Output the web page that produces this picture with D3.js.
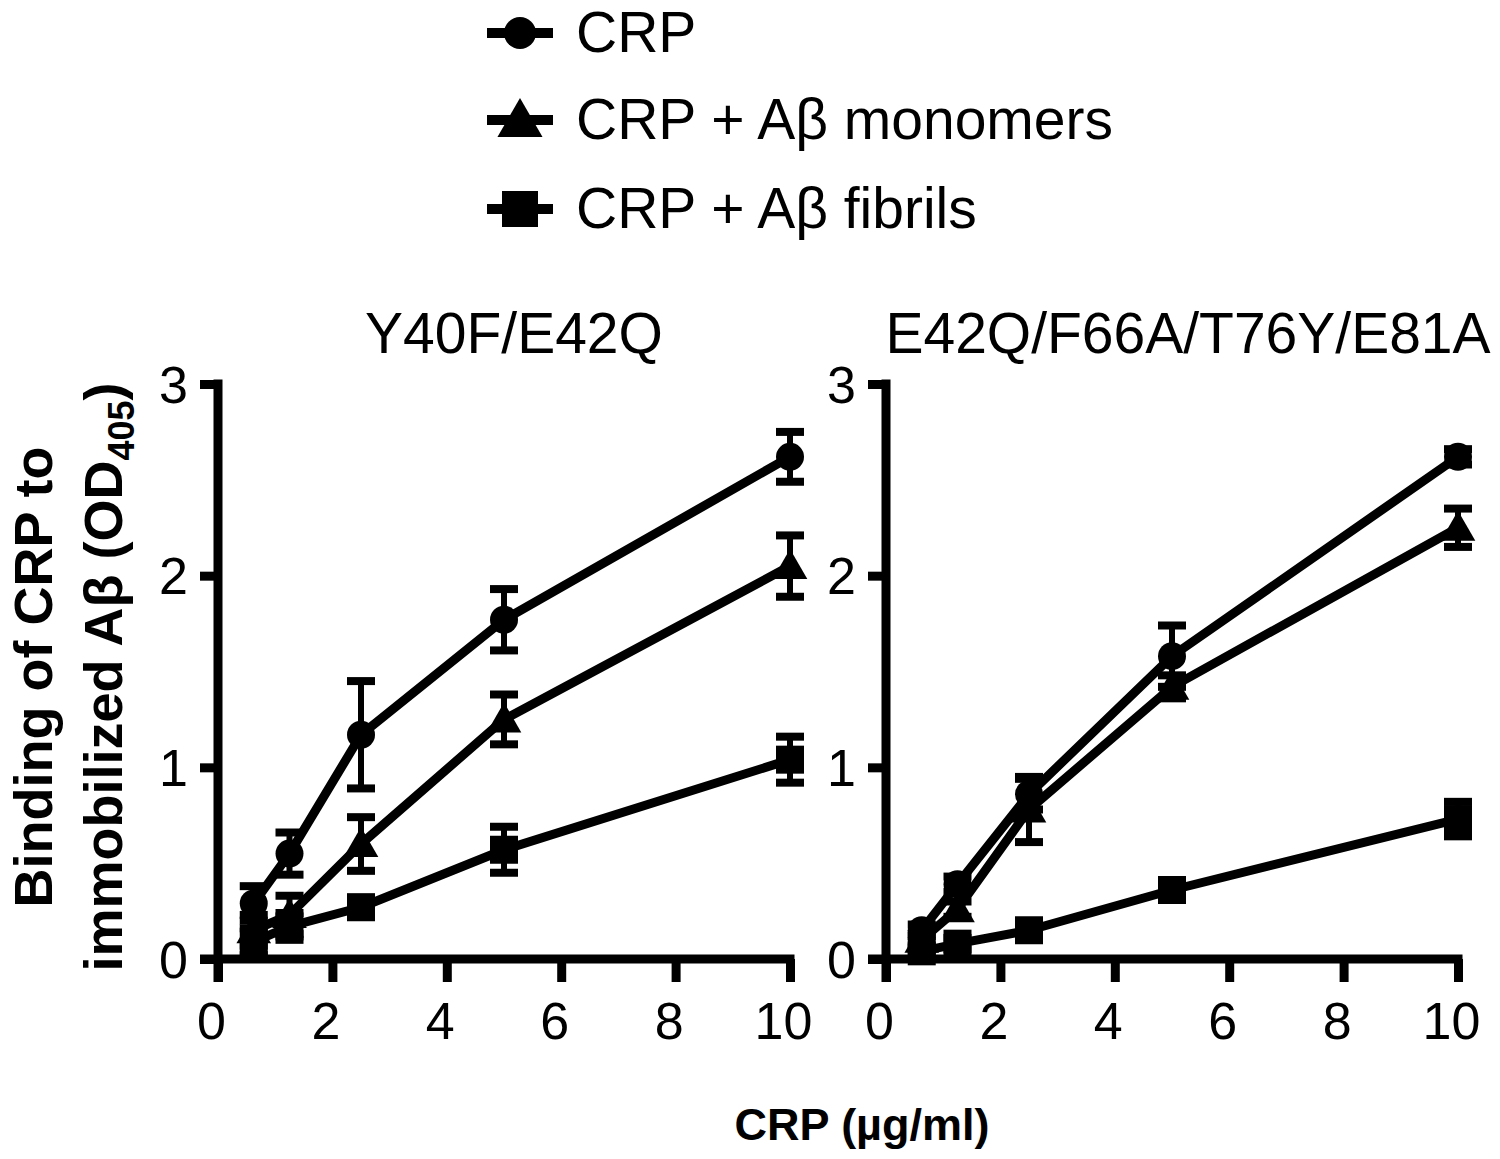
<!DOCTYPE html>
<html>
<head>
<meta charset="utf-8">
<script src="https://cdn.jsdelivr.net/npm/d3@7"></script>
<style>
  html, body { margin: 0; padding: 0; background: #fff; }
  svg { display: block; }
  text { font-family: "Liberation Sans", Arial, Helvetica, sans-serif; fill: #000; }
</style>
</head>
<body>
<svg id="chart" width="1500" height="1159"></svg>
<script>
// ---- Data ----
const concentrations = [0.625, 1.25, 2.5, 5, 10];
const seriesNames = ["CRP", "CRP + A\u03B2 monomers", "CRP + A\u03B2 fibrils"];
const seriesSymbols = ["circle", "triangle", "square"];
const panelTitles = ["Y40F/E42Q", "E42Q/F66A/T76Y/E81A"];

// Panel 1: Y40F/E42Q
const p1_crp      = [0.29, 0.55, 1.17, 1.77, 2.62];
const p1_crp_err  = [0.09, 0.11, 0.28, 0.16, 0.13];
const p1_mono     = [0.15, 0.23, 0.60, 1.25, 2.05];
const p1_mono_err = [0.08, 0.10, 0.14, 0.13, 0.16];
const p1_fib      = [0.09, 0.17, 0.27, 0.57, 1.04];
const p1_fib_err  = [0.07, 0.07, 0.05, 0.12, 0.12];

// Panel 2: E42Q/F66A/T76Y/E81A
const p2_crp      = [0.15, 0.39, 0.86, 1.58, 2.62];
const p2_crp_err  = [0.03, 0.04, 0.08, 0.16, 0.04];
const p2_mono     = [0.10, 0.26, 0.78, 1.42, 2.25];
const p2_mono_err = [0.03, 0.04, 0.17, 0.06, 0.10];
const p2_fib      = [0.04, 0.08, 0.15, 0.36, 0.73];
const p2_fib_err  = [0.02, 0.03, 0.03, 0.03, 0.09];

const xTicks = [0, 2, 4, 6, 8, 10];
const yTicks = [0, 1, 2, 3];
const xAxisTitle = "CRP (\u00B5g/ml)";
const yAxisLine1 = "Binding of CRP to";

// ---- Layout ----
const svg = d3.select("#chart");
const yTop = 384, yBottom = 959;
const panelX = [[218, 790], [886, 1458]];
const lineW = 9;

const symbolGen = {
  circle: d3.symbol().type(d3.symbolCircle).size(Math.PI * 14 * 14),
  square: d3.symbol().type(d3.symbolSquare).size(28 * 28),
  triangle: d3.symbol().type(d3.symbolTriangle).size(520)
};
const legendSymbolGen = {
  circle: d3.symbol().type(d3.symbolCircle).size(Math.PI * 16 * 16),
  square: d3.symbol().type(d3.symbolSquare).size(36 * 36),
  triangle: d3.symbol().type(d3.symbolTriangle).size(880)
};

const panels = [
  { title: panelTitles[0], series: [[p1_crp, p1_crp_err], [p1_mono, p1_mono_err], [p1_fib, p1_fib_err]] },
  { title: panelTitles[1], series: [[p2_crp, p2_crp_err], [p2_mono, p2_mono_err], [p2_fib, p2_fib_err]] }
];

const y = d3.scaleLinear().domain([0, 3]).range([yBottom, yTop]);

panels.forEach((panel, pi) => {
  const x = d3.scaleLinear().domain([0, 10]).range(panelX[pi]);
  const g = svg.append("g");

  // Y axis
  const yAx = g.append("g")
    .attr("transform", `translate(${x(0)},0)`)
    .call(d3.axisLeft(y).tickValues(yTicks).tickSize(18).tickSizeOuter(0).tickPadding(12).tickFormat(d3.format("d")));
  yAx.select(".domain").remove();
  yAx.selectAll(".tick line").attr("stroke", "#000").attr("stroke-width", lineW);
  yAx.selectAll(".tick text").attr("font-size", 52).attr("dy", "0.35em");
  g.append("line")
    .attr("x1", x(0)).attr("x2", x(0))
    .attr("y1", y(3) - lineW / 2).attr("y2", y(0) + 23)
    .attr("stroke", "#000").attr("stroke-width", lineW);

  // X axis
  const xAx = g.append("g")
    .attr("transform", `translate(0,${y(0)})`)
    .call(d3.axisBottom(x).tickValues(xTicks).tickSize(23).tickSizeOuter(0).tickPadding(20).tickFormat(d3.format("d")));
  xAx.select(".domain").remove();
  xAx.selectAll(".tick line").attr("stroke", "#000").attr("stroke-width", lineW);
  xAx.selectAll(".tick text").attr("font-size", 52).attr("dx", -7).attr("dy", "0.72em");
  g.append("line")
    .attr("x1", x(0) - 18).attr("x2", x(10) + lineW / 2)
    .attr("y1", y(0)).attr("y2", y(0))
    .attr("stroke", "#000").attr("stroke-width", lineW);

  // Title
  g.append("text")
    .attr("x", (panelX[pi][0] + panelX[pi][1]) / 2 + 10 + pi * 6)
    .attr("y", 353)
    .attr("text-anchor", "middle")
    .attr("font-size", 57)
    .text(panel.title);

  // Series
  const line = d3.line().x(d => x(d.x)).y(d => y(d.y));
  panel.series.forEach(([vals, errs], si) => {
    const pts = concentrations.map((c, i) => ({ x: c, y: vals[i], e: errs[i] }));
    const sg = g.append("g");
    // error bars
    pts.forEach(p => {
      sg.append("line")
        .attr("x1", x(p.x)).attr("x2", x(p.x))
        .attr("y1", y(p.y + p.e)).attr("y2", y(p.y - p.e))
        .attr("stroke", "#000").attr("stroke-width", 6);
      [p.y + p.e, p.y - p.e].forEach(v => {
        sg.append("line")
          .attr("x1", x(p.x) - 14).attr("x2", x(p.x) + 14)
          .attr("y1", y(v)).attr("y2", y(v))
          .attr("stroke", "#000").attr("stroke-width", 8);
      });
    });
    sg.append("path").datum(pts)
      .attr("d", line)
      .attr("fill", "none").attr("stroke", "#000").attr("stroke-width", lineW)
      .attr("stroke-linejoin", "round");
    sg.selectAll("path.marker").data(pts).enter().append("path")
      .attr("class", "marker")
      .attr("transform", d => `translate(${x(d.x)},${y(d.y) + (seriesSymbols[si] === "triangle" ? 3 : 0)})`)
      .attr("d", symbolGen[seriesSymbols[si]]())
      .attr("fill", "#000");
  });
});

// Legend
const legendY = [33, 120, 209];
const lg = svg.append("g");
seriesNames.forEach((name, i) => {
  const cy = legendY[i];
  lg.append("line").attr("x1", 487).attr("x2", 553).attr("y1", cy).attr("y2", cy)
    .attr("stroke", "#000").attr("stroke-width", 10);
  lg.append("path")
    .attr("transform", `translate(520,${cy + (seriesSymbols[i] === "triangle" ? 4 : 0)})`)
    .attr("d", legendSymbolGen[seriesSymbols[i]]())
    .attr("fill", "#000");
  lg.append("text").attr("x", 576).attr("y", cy + 19)
    .attr("font-size", 57).text(name);
});

// Axis titles
svg.append("text")
  .attr("x", 862).attr("y", 1140)
  .attr("text-anchor", "middle")
  .attr("font-size", 45).attr("font-weight", "bold")
  .text(xAxisTitle);

const yl = svg.append("g").attr("transform", "translate(0,677) rotate(-90)");
yl.append("text")
  .attr("x", 0).attr("y", 52)
  .attr("text-anchor", "middle")
  .attr("font-size", 54).attr("font-weight", "bold")
  .text(yAxisLine1);
const t2 = yl.append("text")
  .attr("x", 0).attr("y", 122)
  .attr("text-anchor", "middle")
  .attr("font-size", 54).attr("font-weight", "bold");
t2.append("tspan").text("immobilized A\u03B2 (OD");
t2.append("tspan").attr("font-size", 36).attr("dy", 12).text("405");
t2.append("tspan").attr("dy", -12).text(")");
</script>
</body>
</html>
